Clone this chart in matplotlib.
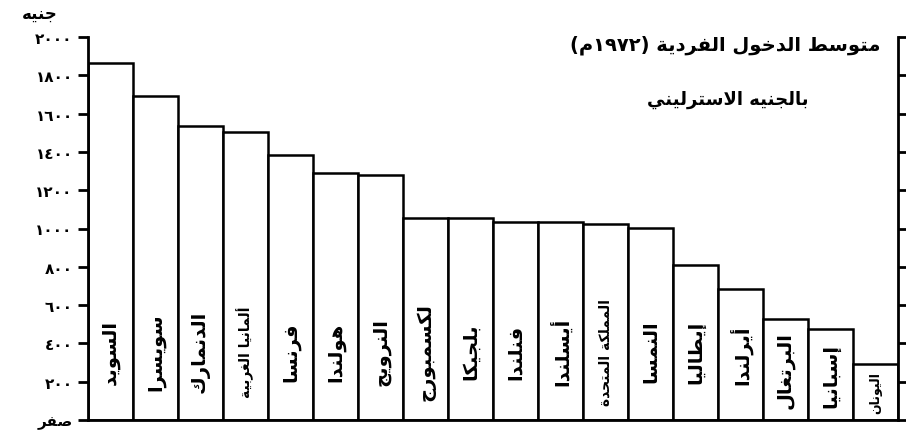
import re
import matplotlib
matplotlib.use("Agg")
import matplotlib.pyplot as plt

# average per-capita income 1972, pounds sterling
countries = ["السويد", "سويسرا", "الدنمارك", "ألمانيا الغربية", "فرنسا", "هولندا",
             "النرويج", "لكسمبورج", "بلجيكا", "فنلندا", "أيسلندا", "المملكة المتحدة",
             "النمسا", "إيطاليا", "أيرلندا", "البرتغال", "إسبانيا", "اليونان"]
income = [1865, 1690, 1535, 1505, 1385, 1290, 1280, 1055, 1055, 1035, 1035, 1025,
          1005, 810, 685, 525, 475, 295]
ytick_values = [0, 200, 400, 600, 800, 1000, 1200, 1400, 1600, 1800, 2000]
ytick_labels = ["صفر", "٢٠٠", "٤٠٠", "٦٠٠", "٨٠٠", "١٠٠٠", "١٢٠٠", "١٤٠٠", "١٦٠٠", "١٨٠٠", "٢٠٠٠"]
title = "متوسط الدخول الفردية (١٩٧٢م)"
subtitle = "بالجنيه الاسترليني"
unit = "جنيه"

# --- tiny arabic shaper (matplotlib has no shaping / bidi) ---
_table = [("ء", 0xFE80, 1), ("آ", 0xFE81, 2), ("أ", 0xFE83, 2), ("ؤ", 0xFE85, 2),
          ("إ", 0xFE87, 2), ("ئ", 0xFE89, 4), ("ا", 0xFE8D, 2), ("ب", 0xFE8F, 4),
          ("ة", 0xFE93, 2), ("ت", 0xFE95, 4), ("ث", 0xFE99, 4), ("ج", 0xFE9D, 4),
          ("ح", 0xFEA1, 4), ("خ", 0xFEA5, 4), ("د", 0xFEA9, 2), ("ذ", 0xFEAB, 2),
          ("ر", 0xFEAD, 2), ("ز", 0xFEAF, 2), ("س", 0xFEB1, 4), ("ش", 0xFEB5, 4),
          ("ص", 0xFEB9, 4), ("ض", 0xFEBD, 4), ("ط", 0xFEC1, 4), ("ظ", 0xFEC5, 4),
          ("ع", 0xFEC9, 4), ("غ", 0xFECD, 4), ("ف", 0xFED1, 4), ("ق", 0xFED5, 4),
          ("ك", 0xFED9, 4), ("ل", 0xFEDD, 4), ("م", 0xFEE1, 4), ("ن", 0xFEE5, 4),
          ("ه", 0xFEE9, 4), ("و", 0xFEED, 2), ("ى", 0xFEEF, 2), ("ي", 0xFEF1, 4)]
FORMS = {c: (b, n) for c, b, n in _table}
LAMALEF = {"آ": 0xFEF5, "أ": 0xFEF7, "إ": 0xFEF9, "ا": 0xFEFB}


def shape(text):
    toks = []
    i = 0
    while i < len(text):
        c = text[i]
        if c == "ل" and i + 1 < len(text) and text[i + 1] in LAMALEF:
            toks.append((LAMALEF[text[i + 1]], 2))
            i += 2
        elif c in FORMS:
            toks.append(FORMS[c])
            i += 1
        else:
            toks.append((c, 0))
            i += 1
    out = ""
    for k, (base, n) in enumerate(toks):
        if n == 0:
            out += base
            continue
        prev = k > 0 and toks[k - 1][1] == 4 and n >= 2
        nxt = n == 4 and k + 1 < len(toks) and toks[k + 1][1] >= 2
        if prev and nxt:
            f = 3
        elif nxt:
            f = 2
        elif prev:
            f = 1
        else:
            f = 0
        if n == 2:
            f = min(f, 1)
        out += chr(base + f)
    return out


def rtl(text):
    runs = re.findall(r"[0-9\u0660-\u0669]+|[^0-9\u0660-\u0669]", shape(text))
    mirror = {"(": ")", ")": "("}
    return "".join(mirror.get(r, r) for r in reversed(runs))


fig = plt.figure(figsize=(9.06, 4.31), dpi=100)
ax = fig.add_axes([88 / 906, 10 / 431, 810 / 906, 383 / 431])

x = list(range(len(countries)))
ax.bar(x, income, width=1.0, align="edge", color="white", edgecolor="black", linewidth=1.8)

for i, (name, v) in enumerate(zip(countries, income)):
    fs = 14 if len(name) < 10 else 10
    if v < 400:
        fs = 9
    ax.text(i + 0.5, min(360, v * 0.5), rtl(name), rotation=90, ha="center", va="center",
            fontsize=fs, fontweight="bold")

ax.set_xlim(0, len(countries))
ax.set_ylim(0, 2000)
ax.set_xticks([])
ax.set_yticks(ytick_values)
ax.set_yticklabels([rtl(t) for t in ytick_labels], fontsize=11, fontweight="bold")
ax.tick_params(axis="y", direction="out", length=7, width=2, left=True, right=True,
               labelright=False, pad=4)
ax.spines["top"].set_visible(False)
for s in ["left", "right", "bottom"]:
    ax.spines[s].set_linewidth(2)

fig.text(40 / 906, 1 - 14 / 431, rtl(unit), ha="center", va="center", fontsize=12, fontweight="bold")
fig.text(725 / 906, 1 - 45 / 431, rtl(title), ha="center", va="center", fontsize=14, fontweight="bold")
fig.text(728 / 906, 1 - 100 / 431, rtl(subtitle), ha="center", va="center", fontsize=13, fontweight="bold")

fig.savefig("out.png", dpi=100)
